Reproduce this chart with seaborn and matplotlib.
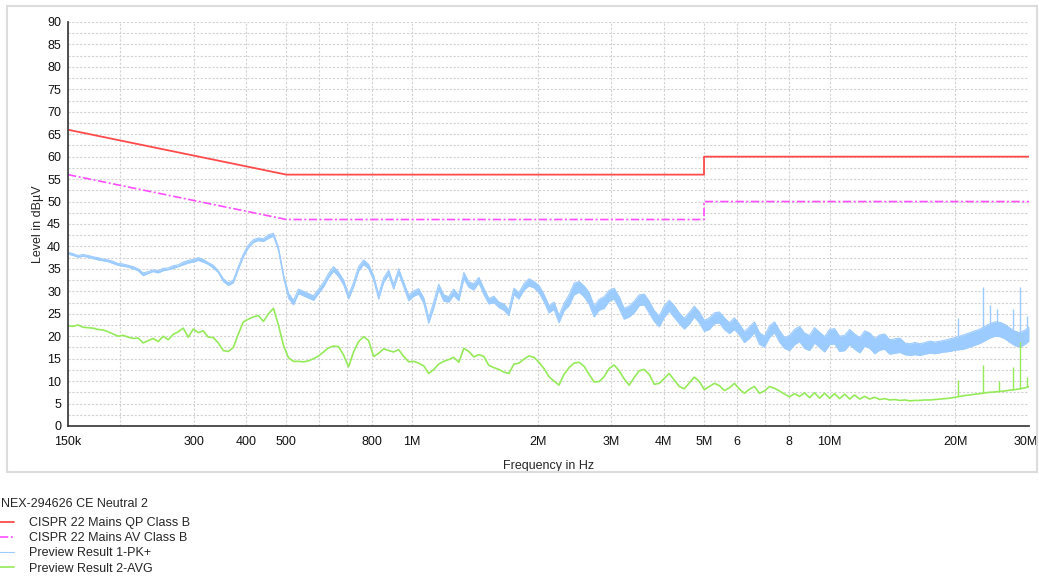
import numpy as np
import pandas as pd
import matplotlib
matplotlib.use('Agg')
import matplotlib.pyplot as plt
import seaborn as sns
from matplotlib.patches import Rectangle
from matplotlib.transforms import ScaledTranslation
from matplotlib.ticker import FixedLocator, FixedFormatter, MultipleLocator

sns.set_style('white')
plt.rcParams['font.family'] = ['Liberation Sans', 'DejaVu Sans']

# limit lines, frequency in MHz, level in dBuV
qp_freq = [0.15, 0.5, 5.0, 5.0, 30.0]
qp_level = [66, 56, 56, 60, 60]
av_freq = [0.15, 0.5, 5.0, 5.0, 30.0]
av_level = [56, 46, 46, 50, 50]

scan_freq = [
    0.1500, 0.1542, 0.1585, 0.1630, 0.1675, 0.1722, 0.1770, 0.1820, 0.1871, 0.1923,
    0.1977, 0.2033, 0.2090, 0.2148, 0.2208, 0.2270, 0.2334, 0.2399, 0.2466, 0.2535,
    0.2606, 0.2679, 0.2754, 0.2831, 0.2911, 0.2992, 0.3076, 0.3162, 0.3251, 0.3342,
    0.3435, 0.3532, 0.3631, 0.3732, 0.3837, 0.3944, 0.4055, 0.4168, 0.4285, 0.4405,
    0.4529, 0.4656, 0.4786, 0.4920, 0.5058, 0.5200, 0.5345, 0.5495, 0.5649, 0.5807,
    0.5970, 0.6137, 0.6309, 0.6486, 0.6667, 0.6854, 0.7046, 0.7243, 0.7446, 0.7654,
    0.7869, 0.8089, 0.8316, 0.8549, 0.8788, 0.9034, 0.9287, 0.9547, 0.9815, 1.009,
    1.037, 1.066, 1.096, 1.127, 1.158, 1.191, 1.224, 1.258, 1.294, 1.330,
    1.367, 1.405, 1.445, 1.485, 1.527, 1.570, 1.614, 1.659, 1.705, 1.753,
    1.802, 1.853, 1.905, 1.958, 2.013, 2.069, 2.127, 2.187, 2.248, 2.311,
    2.376, 2.442, 2.511, 2.581, 2.653, 2.728, 2.804, 2.883, 2.963, 3.046,
    3.132, 3.219, 3.310, 3.402, 3.498, 3.596, 3.696, 3.800, 3.906, 4.016,
    4.128, 4.244, 4.363, 4.485, 4.611, 4.740, 4.873, 5.009, 5.150, 5.294,
    5.442, 5.595, 5.751, 5.912, 6.078, 6.248, 6.423, 6.603, 6.788, 6.978,
    7.174, 7.375, 7.581, 7.793, 8.012, 8.236, 8.467, 8.704, 8.948, 9.198,
    9.456, 9.721, 9.993, 10.27, 10.56, 10.86, 11.16, 11.47, 11.80, 12.13,
    12.47, 12.82, 13.17, 13.54, 13.92, 14.31, 14.72, 15.13, 15.55, 15.99,
    16.44, 16.90, 17.37, 17.86, 18.36, 18.87, 19.40, 19.94, 20.50, 21.08,
    21.67, 22.27, 22.90, 23.54, 24.20, 24.88, 25.57, 26.29, 27.03, 27.78,
    28.56, 29.36, 30.00]

# peak trace: lower and upper edge of the noisy band
pk_low = [
    38.3, 38.0, 37.6, 37.8, 37.6, 37.3, 37.0, 36.8, 36.6, 36.2,
    35.8, 35.6, 35.4, 35.0, 34.6, 33.5, 34.0, 34.4, 34.1, 34.6,
    34.8, 35.1, 35.5, 35.9, 36.3, 36.5, 36.9, 36.5, 36.0, 35.2,
    34.2, 32.2, 31.3, 31.9, 34.9, 37.7, 39.7, 40.9, 41.3, 41.1,
    41.8, 42.3, 39.2, 33.2, 28.5, 27.0, 29.5, 29.0, 28.5, 28.0,
    29.5, 31.0, 33.0, 34.5, 33.3, 31.5, 28.3, 31.0, 34.5, 36.0,
    35.0, 32.5, 28.3, 32.0, 33.7, 30.5, 34.0, 31.0, 27.9, 28.9,
    29.4, 27.4, 22.9, 26.3, 30.4, 27.8, 27.6, 29.1, 27.9, 32.8,
    30.9, 30.3, 31.9, 29.3, 27.2, 27.5, 26.4, 25.8, 24.6, 29.3,
    28.3, 30.3, 31.2, 30.8, 29.7, 27.7, 25.2, 26.0, 23.0, 25.7,
    26.8, 29.2, 29.8, 28.8, 27.2, 24.3, 25.8, 26.2, 27.8, 28.3,
    26.2, 23.8, 24.3, 25.2, 26.8, 27.0, 25.2, 23.3, 22.1, 24.2,
    25.6, 24.2, 22.8, 21.6, 22.7, 24.3, 23.0, 21.1, 21.5, 22.8,
    23.0, 21.5, 20.6, 21.5, 20.3, 18.6, 19.5, 20.8, 18.2, 17.6,
    19.7, 20.8, 18.7, 17.3, 16.8, 18.1, 18.8, 17.3, 16.8, 18.5,
    17.5, 16.5, 18.1, 18.3, 16.6, 16.8, 18.1, 17.1, 16.3, 17.8,
    17.3, 16.1, 16.9, 17.1, 16.0, 16.2, 16.4, 15.9, 15.7, 15.9,
    15.7, 16.0, 16.2, 16.1, 16.3, 16.5, 16.6, 16.9, 17.0, 17.2,
    17.6, 18.0, 18.4, 19.0, 19.6, 20.0, 19.9, 19.4, 18.6, 17.9,
    17.6, 18.2, 18.9]
pk_high = [
    38.7, 38.4, 38.0, 38.2, 38.0, 37.7, 37.5, 37.2, 37.0, 36.7,
    36.2, 36.1, 35.8, 35.5, 35.0, 34.1, 34.4, 34.8, 34.6, 35.1,
    35.2, 35.7, 35.9, 36.5, 36.9, 37.1, 37.5, 37.1, 36.4, 35.8,
    34.6, 32.8, 31.9, 32.5, 35.5, 38.3, 40.3, 41.5, 41.9, 41.7,
    42.6, 42.9, 39.8, 33.8, 29.6, 28.0, 30.5, 30.0, 29.5, 29.0,
    30.5, 32.0, 34.0, 35.5, 34.3, 32.5, 29.3, 32.0, 35.5, 37.0,
    36.0, 33.5, 29.3, 33.0, 34.7, 31.5, 35.0, 32.0, 29.1, 30.1,
    30.6, 28.6, 24.1, 27.7, 31.6, 29.2, 28.8, 30.5, 29.1, 34.2,
    32.1, 31.7, 33.1, 30.7, 28.4, 28.9, 27.6, 27.2, 25.8, 30.7,
    29.7, 31.7, 32.8, 32.2, 31.3, 29.3, 26.8, 27.6, 24.6, 27.3,
    29.2, 31.8, 32.2, 31.2, 29.8, 26.7, 28.2, 28.8, 30.2, 30.7,
    28.8, 26.2, 26.7, 27.8, 29.2, 29.4, 27.8, 25.7, 24.5, 26.8,
    28.0, 26.8, 25.2, 24.0, 25.3, 26.7, 25.4, 23.5, 24.1, 25.2,
    25.4, 24.1, 23.0, 24.1, 22.7, 21.0, 22.1, 23.2, 20.8, 20.0,
    22.3, 23.2, 21.3, 19.7, 20.2, 21.5, 22.2, 20.7, 20.2, 21.9,
    20.9, 19.9, 21.5, 21.7, 20.0, 20.2, 21.5, 20.5, 19.7, 21.2,
    20.7, 19.5, 20.3, 20.5, 19.2, 19.4, 19.6, 18.5, 18.3, 18.6,
    18.3, 18.6, 18.9, 18.7, 18.9, 19.1, 19.4, 19.7, 20.0, 20.4,
    20.8, 21.2, 21.6, 22.2, 22.8, 23.2, 23.1, 22.6, 21.8, 21.1,
    20.8, 21.4, 22.1]
pk_spike_freq = [20.3, 23.3, 24.2, 25.2, 27.4, 28.6, 29.7]
pk_spike_base = [20.0, 22.0, 22.8, 23.0, 21.5, 20.8, 21.8]
pk_spike_top = [24.0, 31.0, 27.0, 26.0, 26.0, 31.0, 24.5]

# average trace
avg_level = [
    22.3, 22.2, 22.5, 22.0, 21.9, 21.8, 21.5, 21.4, 21.0, 20.5,
    20.0, 20.2, 19.8, 19.5, 19.6, 18.5, 19.0, 19.5, 18.8, 20.0,
    19.2, 20.4, 21.0, 21.8, 19.8, 21.6, 20.8, 21.2, 19.8, 19.7,
    18.5, 16.8, 16.6, 17.5, 20.5, 23.2, 23.8, 24.3, 24.6, 23.3,
    25.0, 26.2, 22.5, 18.0, 15.2, 14.4, 14.4, 14.3, 14.5, 15.0,
    15.6, 16.5, 17.4, 17.8, 17.7, 15.8, 13.2, 16.5, 18.8, 19.9,
    19.0, 15.5, 16.2, 17.2, 16.8, 16.5, 17.0, 15.5, 14.3, 14.4,
    14.0, 13.4, 11.7, 12.6, 13.8, 14.4, 14.8, 15.3, 14.2, 17.3,
    16.6, 15.4, 15.9, 15.5, 13.5, 13.0, 12.6, 12.0, 11.7, 13.8,
    14.0, 14.9, 15.6, 15.3, 14.2, 12.8, 11.0, 10.0, 9.1, 11.5,
    13.0, 14.0, 14.2, 13.3, 11.5, 9.8, 9.9, 11.0, 12.8, 13.6,
    12.3, 10.5, 9.1, 10.8, 12.3, 12.6, 11.5, 9.3, 9.5, 10.6,
    11.7, 10.2, 8.8, 8.3, 9.6, 10.9, 9.9, 8.1, 8.8, 9.5,
    9.0, 7.9, 8.5, 9.5, 8.2, 7.3, 8.2, 8.8, 7.3, 7.8,
    8.8, 8.4, 7.8, 7.1, 6.5, 7.2, 6.6, 7.4, 6.3, 7.4,
    6.2, 7.3, 6.2, 7.2, 6.1, 7.1, 6.0, 6.9, 6.0, 6.6,
    6.0, 6.4, 5.9, 6.1, 5.8, 5.9, 5.7, 5.8, 5.6, 5.7,
    5.7, 5.8, 5.8, 5.9, 6.0, 6.1, 6.2, 6.4, 6.6, 6.8,
    6.9, 7.1, 7.2, 7.4, 7.5, 7.6, 7.7, 7.8, 8.0, 8.1,
    8.3, 8.5, 8.8]
avg_spike_freq = [20.3, 23.3, 25.4, 27.4, 28.6, 29.7]
avg_spike_base = [6.6, 7.4, 7.7, 8.1, 8.3, 8.6]
avg_spike_top = [10.2, 13.7, 10.0, 13.2, 18.8, 11.0]

tick_freq = [0.15, 0.2, 0.3, 0.4, 0.5, 0.6, 0.7, 0.8, 1, 2, 3, 4, 5, 6, 7, 8, 10, 20, 30]
tick_labels = ['150k', '', '300', '400', '500', '', '', '800', '1M', '2M', '3M', '4M',
               '5M', '6', '', '8', '10M', '20M', '30M']

legend_title = 'NEX-294626 CE Neutral 2'
series_names = ['CISPR 22 Mains QP Class B', 'CISPR 22 Mains AV Class B',
                'Preview Result 1-PK+', 'Preview Result 2-AVG']

c_qp = '#ff4b4b'
c_av = '#ff4dff'
c_pk = '#9ccbff'
c_avg = '#95ea5a'

fig = plt.figure(figsize=(10.39, 5.76), dpi=100)
fig.add_artist(Rectangle((7 / 1039, 1 - 472 / 576), 1030 / 1039, 466 / 576,
                         transform=fig.transFigure, fill=False,
                         edgecolor='#dcdcdc', linewidth=1.5))
ax = fig.add_axes([68 / 1039, 1 - 426 / 576, 961 / 1039, 404 / 576])

scan = pd.DataFrame({'f': scan_freq, 'lo': pk_low, 'hi': pk_high, 'avg': avg_level})

# peak trace
ax.fill_between(scan['f'], scan['lo'], scan['hi'], color=c_pk, linewidth=0)
sns.lineplot(data=scan, x='f', y='hi', ax=ax, color=c_pk, linewidth=0.8,
             estimator=None, sort=False)
sns.lineplot(data=scan, x='f', y='lo', ax=ax, color=c_pk, linewidth=0.8,
             estimator=None, sort=False)
ax.vlines(pk_spike_freq, pk_spike_base, pk_spike_top, color=c_pk, linewidth=1.0)

# average trace
sns.lineplot(data=scan, x='f', y='avg', ax=ax, color=c_avg, linewidth=1.2,
             estimator=None, sort=False)
ax.vlines(avg_spike_freq, avg_spike_base, avg_spike_top, color=c_avg, linewidth=1.0)

# limits
sns.lineplot(x=qp_freq, y=qp_level, ax=ax, color=c_qp, linewidth=1.3,
             estimator=None, sort=False)
sns.lineplot(x=av_freq, y=av_level, ax=ax, color=c_av, linewidth=1.2,
             estimator=None, sort=False, linestyle=(0, (5, 1.5, 1.2, 1.5)))

ax.set_xscale('log')
ax.set_xlim(0.15, 30)
ax.set_ylim(0, 90)
ax.xaxis.set_major_locator(FixedLocator(tick_freq))
ax.xaxis.set_major_formatter(FixedFormatter(tick_labels))
ax.xaxis.set_minor_locator(FixedLocator([]))
ax.yaxis.set_major_locator(MultipleLocator(5))
ax.yaxis.set_minor_locator(MultipleLocator(2.5))

ax.grid(True, which='major', axis='x', color='#d2d2d2', linestyle=(0, (2, 1.5)), linewidth=0.8)
ax.grid(True, which='both', axis='y', color='#d2d2d2', linestyle=(0, (2, 1.5)), linewidth=0.8)
ax.set_axisbelow(True)

for s in ['top', 'right']:
    ax.spines[s].set_visible(False)
for s in ['left', 'bottom']:
    ax.spines[s].set_color('#333333')
    ax.spines[s].set_linewidth(1.2)

ax.tick_params(axis='both', which='both', direction='inout', length=6, width=1,
               color='#333333', labelsize=9, labelcolor='#111111', pad=2)
ax.tick_params(axis='x', which='major', pad=4)

# the last label sits right at the figure edge, nudge it in a little
last = ax.xaxis.get_majorticklabels()[-1]
last.set_transform(last.get_transform() + ScaledTranslation(-3 / 100, 0, fig.dpi_scale_trans))

ax.set_xlabel('Frequency in Hz', fontsize=9)
ax.set_ylabel('Level in dBµV', fontsize=9)
ax.xaxis.set_label_coords(0.5, -0.083)
ax.yaxis.set_label_coords(-0.025, 0.5)

fig.text(0.0005, 1 - 504 / 576, legend_title, fontsize=9, va='center', ha='left')
handles = [ax.lines[3], ax.lines[4], ax.lines[0], ax.lines[2]]
fig.legend(handles, series_names, loc='upper left',
           bbox_to_anchor=(0.0, 1 - 517 / 576), frameon=False,
           borderpad=0, borderaxespad=0, handlelength=1.15,
           handletextpad=1.2, labelspacing=0.26, fontsize=9)

fig.savefig('out.png', dpi=100)
